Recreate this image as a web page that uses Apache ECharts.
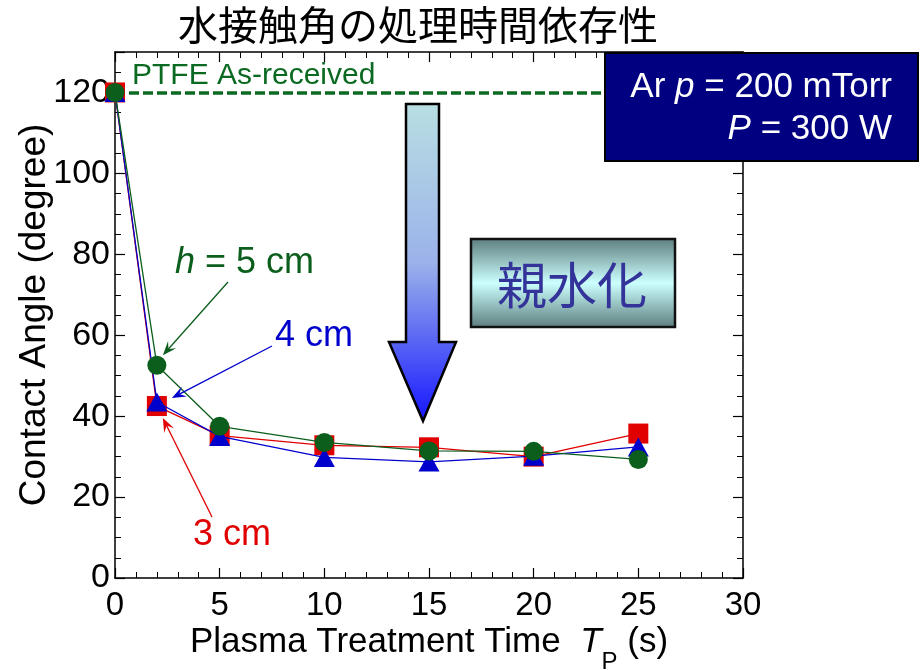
<!DOCTYPE html>
<html>
<head>
<meta charset="utf-8">
<script src="https://cdn.jsdelivr.net/npm/echarts@6/dist/echarts.min.js"></script>
<style>
html, body { margin: 0; padding: 0; background: #fff; }
#chart { width: 923px; height: 670px; }
</style>
</head>
<body>
<div id="chart"></div>
<script>
// treatment time (s) and contact angle (degree) for each distance h
const times = [0, 2, 5, 10, 15, 20, 25];
const angle3cm = [120, 42.5, 35.2, 32.8, 32.3, 30.0, 35.7];
const angle4cm = [120, 43.5, 35.0, 29.8, 28.7, 30.1, 32.4];
const angle5cm = [120, 52.6, 37.5, 33.5, 31.4, 31.3, 29.3];
const ptfeAngle = 120; // PTFE as-received
const yTickLabels = [0, 20, 40, 60, 80, 100, 120];

const RED = '#e00000';
const BLUE = '#0000cc';
const GREEN = '#0b5e1c';
const FONT = '"Liberation Sans", Arial, sans-serif';
const JP = '"Noto Sans CJK JP", sans-serif';

const chart = echarts.init(document.getElementById('chart'));

function pairs(ys) {
  return times.map((t, i) => [t, ys[i]]);
}

function frameAxis(extra) {
  return Object.assign({
    type: 'value',
    axisLine: { show: true, onZero: false, lineStyle: { color: '#000', width: 1.5 } },
    axisTick: { show: true, inside: true, length: 10, lineStyle: { color: '#000', width: 1.2 } },
    minorTick: { show: true, length: 6, lineStyle: { color: '#000', width: 1 } },
    splitLine: { show: false },
    axisLabel: { show: false }
  }, extra);
}

const option = {
  animation: false,
  backgroundColor: '#fff',
  grid: { left: 115, right: 180, top: 52, bottom: 92, outerBoundsMode: 'none' },
  xAxis: [
    frameAxis({
      position: 'bottom', min: 0, max: 30, interval: 5,
      minorTick: { show: true, splitNumber: 5, length: 6, lineStyle: { color: '#000', width: 1 } },
      axisLabel: { show: true, color: '#000', fontSize: 33, fontFamily: FONT, margin: 11 },
      name: '{a|Plasma Treatment Time  }{i|T}{s|P}{a| (s)}',
      nameLocation: 'middle',
      nameGap: 32,
      nameMoveOverlap: false,
      nameTextStyle: {
        color: '#000', fontSize: 35, fontFamily: FONT,
        rich: {
          a: { fontSize: 35, fontFamily: FONT, color: '#000' },
          i: { fontSize: 35, fontFamily: FONT, color: '#000', fontStyle: 'italic' },
          s: { fontSize: 24, fontFamily: FONT, color: '#000', padding: [40, 0, 0, 0] }
        }
      }
    }),
    frameAxis({
      position: 'top', min: 0, max: 30, interval: 5,
      minorTick: { show: true, splitNumber: 5, length: 6, lineStyle: { color: '#000', width: 1 } }
    })
  ],
  yAxis: [
    frameAxis({
      position: 'left', min: 0, max: 130, interval: 20,
      minorTick: { show: true, splitNumber: 4, length: 6, lineStyle: { color: '#000', width: 1 } },
      axisLabel: {
        show: true, color: '#000', fontSize: 34, fontFamily: FONT, margin: 5,
        formatter: v => (yTickLabels.includes(v) ? String(v) : '')
      },
      name: 'Contact Angle (degree)',
      nameLocation: 'middle',
      nameGap: 62,
      nameMoveOverlap: false,
      nameTextStyle: { color: '#000', fontSize: 37, fontFamily: FONT }
    }),
    frameAxis({
      position: 'right', min: 0, max: 130, interval: 20,
      minorTick: { show: true, splitNumber: 4, length: 6, lineStyle: { color: '#000', width: 1 } }
    })
  ],
  series: [
    {
      name: '3 cm', type: 'line', data: pairs(angle3cm), z: 2,
      symbol: 'rect', symbolSize: 20,
      itemStyle: { color: RED }, lineStyle: { color: RED, width: 1.3 },
      emphasis: { disabled: true },
      markLine: {
        silent: true, z: 1, symbol: ['none', 'none'], label: { show: false },
        lineStyle: { color: '#0b6a22', width: 3.5, type: [10, 4] },
        data: [{ yAxis: ptfeAngle }]
      }
    },
    {
      name: '4 cm', type: 'line', data: pairs(angle4cm), z: 3,
      symbol: 'triangle', symbolSize: [21, 19],
      itemStyle: { color: BLUE }, lineStyle: { color: BLUE, width: 1.3 },
      emphasis: { disabled: true }
    },
    {
      name: '5 cm', type: 'line', data: pairs(angle5cm), z: 4,
      symbol: 'circle', symbolSize: 19,
      itemStyle: { color: GREEN }, lineStyle: { color: GREEN, width: 1.3 },
      emphasis: { disabled: true }
    }
  ]
};

chart.setOption(option);

// annotation arrow: line plus barbed head
function arrow(from, tip, color) {
  const dx = tip[0] - from[0], dy = tip[1] - from[1];
  const len = Math.sqrt(dx * dx + dy * dy);
  const ux = dx / len, uy = dy / len;
  const nx = -uy, ny = ux;
  const L = 14, W = 5.5;
  const head = [
    tip,
    [tip[0] - ux * L + nx * W, tip[1] - uy * L + ny * W],
    [tip[0] - ux * L * 0.6, tip[1] - uy * L * 0.6],
    [tip[0] - ux * L - nx * W, tip[1] - uy * L - ny * W]
  ];
  return [
    { type: 'line', z: 20, shape: { x1: from[0], y1: from[1], x2: tip[0] - ux * 8, y2: tip[1] - uy * 8 },
      style: { stroke: color, lineWidth: 1.3 } },
    { type: 'polygon', z: 20, shape: { points: head }, style: { fill: color } }
  ];
}

const toPx = (t, v) => chart.convertToPixel({ xAxisIndex: 0, yAxisIndex: 0 }, [t, v]);
const pG = toPx(times[1], angle5cm[1]);
const pB = toPx(times[1], angle4cm[1]);
const pR = toPx(times[1], angle3cm[1]);

const graphic = [
  { type: 'text', z: 20, x: 418, y: 25,
    style: { text: '水接触角の処理時間依存性', fill: '#000', fontSize: 40, fontFamily: JP,
      align: 'center', verticalAlign: 'middle' } },
  { type: 'text', z: 20, x: 132, y: 76,
    style: { text: 'PTFE As-received', fill: '#0b6a22', fontSize: 30, fontFamily: FONT,
      align: 'left', verticalAlign: 'middle' } },
  // condition box
  { type: 'rect', z: 20, shape: { x: 605, y: 53, width: 313, height: 108 },
    style: { fill: '#000080', stroke: '#000', lineWidth: 2 } },
  { type: 'text', z: 21, x: 892, y: 87,
    style: { text: '{t|Ar }{i|p}{t| = 200 mTorr}', align: 'right', verticalAlign: 'middle',
      rich: {
        t: { fill: '#fff', fontSize: 35, fontFamily: FONT },
        i: { fill: '#fff', fontSize: 35, fontFamily: FONT, fontStyle: 'italic' }
      } } },
  { type: 'text', z: 21, x: 892, y: 129,
    style: { text: '{i|P}{t| = 300 W}', align: 'right', verticalAlign: 'middle',
      rich: {
        t: { fill: '#fff', fontSize: 35, fontFamily: FONT },
        i: { fill: '#fff', fontSize: 35, fontFamily: FONT, fontStyle: 'italic' }
      } } },
  // big downward arrow
  { type: 'polygon', z: 20,
    shape: { points: [[406, 104], [439, 104], [439, 342], [456, 342], [423, 421], [389, 342], [406, 342]] },
    style: {
      stroke: '#000', lineWidth: 2.5,
      fill: new echarts.graphic.LinearGradient(0, 0, 0, 1, [
        { offset: 0, color: '#b9dfe2' },
        { offset: 0.5, color: '#9bb2ea' },
        { offset: 1, color: '#1515ff' }
      ])
    } },
  // 親水化 label box
  { type: 'rect', z: 20, shape: { x: 471, y: 239, width: 204, height: 88 },
    style: {
      stroke: '#111', lineWidth: 2.5,
      fill: new echarts.graphic.LinearGradient(0, 0, 0, 1, [
        { offset: 0, color: '#5c7c7c' },
        { offset: 0.5, color: '#ccffff' },
        { offset: 1, color: '#5c7c7c' }
      ])
    } },
  { type: 'text', z: 21, x: 572, y: 285,
    style: { text: '親水化', fill: '#333399', fontSize: 50, fontFamily: JP,
      align: 'center', verticalAlign: 'middle' } },
  // h labels
  { type: 'text', z: 20, x: 175, y: 263,
    style: { text: '{i|h}{t| = 5 cm}', align: 'left', verticalAlign: 'middle',
      rich: {
        t: { fill: GREEN, fontSize: 36, fontFamily: FONT },
        i: { fill: GREEN, fontSize: 36, fontFamily: FONT, fontStyle: 'italic' }
      } } },
  { type: 'text', z: 20, x: 275, y: 336,
    style: { text: '4 cm', fill: BLUE, fontSize: 36, fontFamily: FONT,
      align: 'left', verticalAlign: 'middle' } },
  { type: 'text', z: 20, x: 193, y: 535,
    style: { text: '3 cm', fill: RED, fontSize: 36, fontFamily: FONT,
      align: 'left', verticalAlign: 'middle' } }
].concat(
  arrow([228, 282], [pG[0] + 6, pG[1] - 10], GREEN),
  arrow([272, 346], [pB[0] + 15, pB[1] - 4], BLUE),
  arrow([212, 517], [pR[0] + 6, pR[1] + 12], RED)
);

chart.setOption({ graphic: graphic });
</script>
</body>
</html>
